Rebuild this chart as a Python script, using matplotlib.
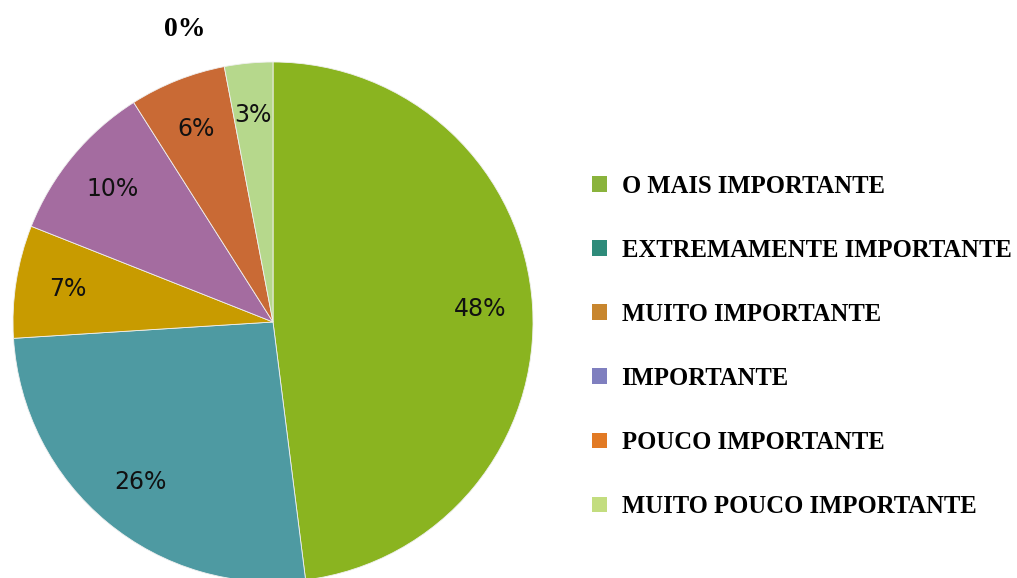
import matplotlib.pyplot as plt
from matplotlib.patches import Patch

# dados
categorias = ["O MAIS IMPORTANTE", "EXTREMAMENTE IMPORTANTE", "MUITO IMPORTANTE",
              "IMPORTANTE", "POUCO IMPORTANTE", "MUITO POUCO IMPORTANTE"]
valores = [48, 26, 7, 10, 6, 3]
rotulo_extra = "0%"

cores_pizza = ["#8AB420", "#4E9AA2", "#C89B00", "#A46CA0", "#C96A35", "#B6D88C"]
cores_legenda = ["#8AB33C", "#2E8B7A", "#C8862E", "#7F7FBF", "#E27A24", "#C3DD7F"]

fig = plt.figure(figsize=(10.17, 5.78), dpi=100)
ax = fig.add_axes([0, 0, 1, 1])

fatias, textos = ax.pie(valores, colors=cores_pizza, startangle=90, counterclock=False,
                        center=(273, 256), radius=260, frame=True,
                        labels=[f"{v}%" for v in valores], labeldistance=0.8,
                        wedgeprops=dict(edgecolor="#f0f0f0", linewidth=0.6))
for t in textos:
    t.set_ha("center")
    t.set_va("center")
    t.set_fontsize(17)
    t.set_color("#111111")
ax.set_xlim(0, 1017)
ax.set_ylim(0, 578)
ax.set_aspect("equal")
ax.axis("off")

fig.text(185 / 1017, 1 - 30 / 578, rotulo_extra, ha="center", va="center",
         fontsize=20, fontweight="bold", family="Liberation Serif")

handles = [Patch(facecolor=c, edgecolor="none") for c in cores_legenda]
leg = ax.legend(handles, categorias, loc="upper left", bbox_to_anchor=(582 / 1017, 1 - 165 / 578),
                frameon=False, handlelength=0.61, handleheight=0.61, handletextpad=0.6,
                labelspacing=1.67, borderaxespad=0,
                prop={"family": "Liberation Serif", "weight": "bold", "size": 17.7})

fig.savefig("out.png", dpi=100)
